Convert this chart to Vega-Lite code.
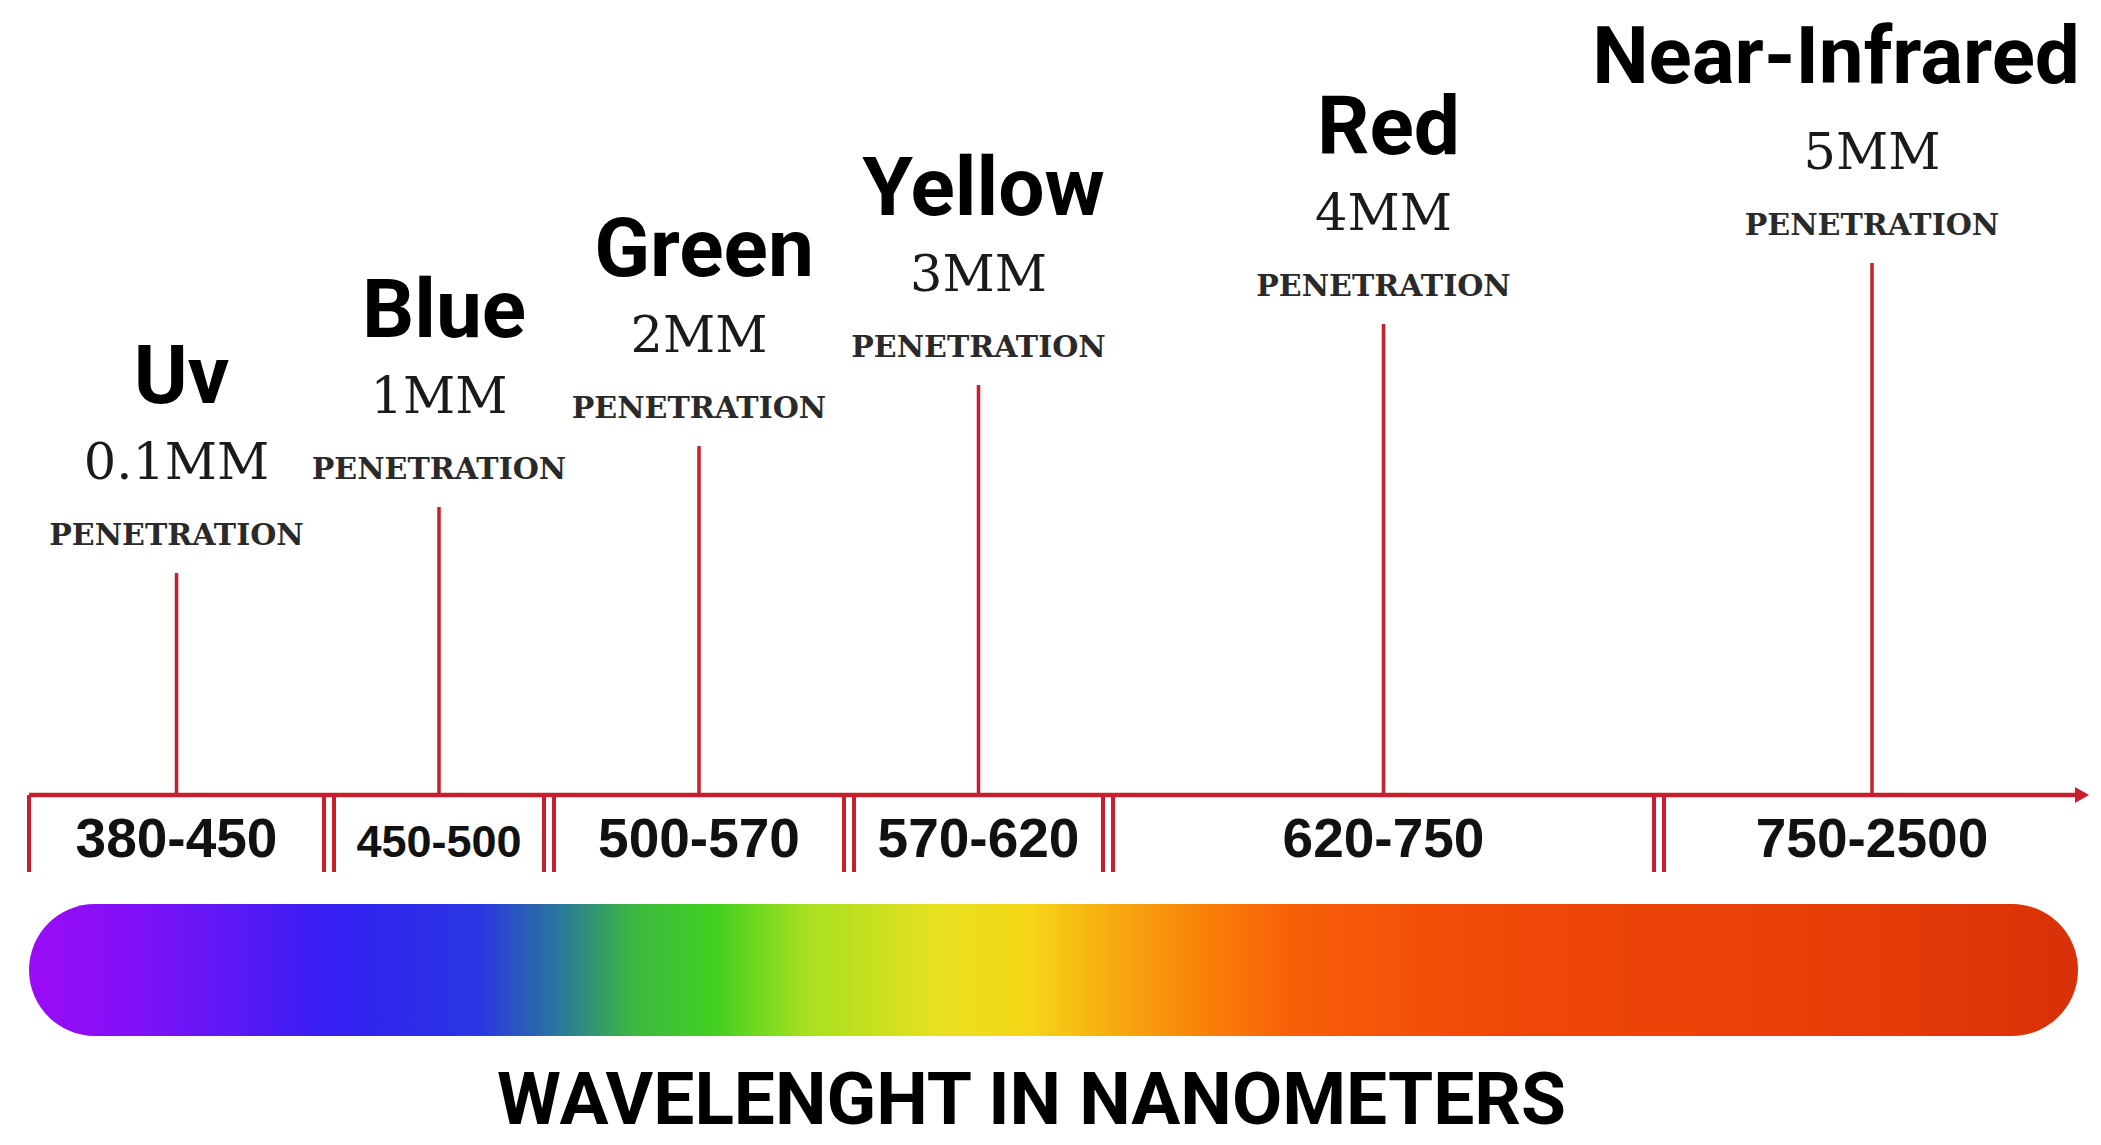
{
  "$schema": "https://vega.github.io/schema/vega-lite/v6.json",
  "width": 2101,
  "height": 1145,
  "padding": 0,
  "autosize": {"type": "none"},
  "background": "white",
  "datasets": {
    "bands": [
      {"name": "Uv", "range": "380-450", "start": 380, "end": 450, "depth": 0.1, "depth_label": "0.1MM"},
      {"name": "Blue", "range": "450-500", "start": 450, "end": 500, "depth": 1, "depth_label": "1MM"},
      {"name": "Green", "range": "500-570", "start": 500, "end": 570, "depth": 2, "depth_label": "2MM"},
      {"name": "Yellow", "range": "570-620", "start": 570, "end": 620, "depth": 3, "depth_label": "3MM"},
      {"name": "Red", "range": "620-750", "start": 620, "end": 750, "depth": 4, "depth_label": "4MM"},
      {"name": "Near-Infrared", "range": "750-2500", "start": 750, "end": 2500, "depth": 5, "depth_label": "5MM"}
    ]
  },
  "data": {"name": "bands"},
  "transform": [{"calculate": "(datum.start + datum.end) / 2", "as": "mid"}],
  "resolve": {"scale": {"x": "shared", "y": "shared"}},
  "layer": [
    {
      "transform": [{"aggregate": [{"op": "min", "field": "start", "as": "lo"}, {"op": "max", "field": "end", "as": "hi"}]}],
      "mark": {
        "type": "bar",
        "yOffset": 109,
        "y2Offset": 241,
        "xOffset": 5,
        "x2Offset": -7,
        "cornerRadius": 66,
        "fill": {
          "gradient": "linear", "x1": 0, "y1": 0, "x2": 1, "y2": 0,
          "stops": [
            {"offset": 0, "color": "#9a0cf4"},
            {"offset": 0.05, "color": "#8210f8"},
            {"offset": 0.15, "color": "#3420f2"},
            {"offset": 0.22, "color": "#2a36e2"},
            {"offset": 0.26, "color": "#2a7a98"},
            {"offset": 0.295, "color": "#3cb840"},
            {"offset": 0.335, "color": "#42d020"},
            {"offset": 0.38, "color": "#a8e020"},
            {"offset": 0.445, "color": "#e8e020"},
            {"offset": 0.485, "color": "#f5d818"},
            {"offset": 0.54, "color": "#f8a010"},
            {"offset": 0.575, "color": "#f98008"},
            {"offset": 0.615, "color": "#f86008"},
            {"offset": 0.705, "color": "#f04a08"},
            {"offset": 0.9, "color": "#e63c08"},
            {"offset": 1, "color": "#d83008"}
          ]
        }
      },
      "encoding": {
        "x": {"field": "lo", "type": "quantitative", "title": "WAVELENGHT IN NANOMETERS",
              "scale": {"type": "linear", "domain": [380, 450, 500, 570, 620, 750, 2500], "range": [24, 329, 549, 849, 1108, 1659, 2085], "nice": false, "zero": false}},
        "x2": {"field": "hi"},
        "y": {"datum": 0, "type": "quantitative",
              "scale": {"type": "linear", "domain": [0, 0.1, 1, 5], "range": [795, 573, 507, 263], "nice": false, "zero": false}},
        "y2": {"datum": 0}
      }
    },
    {
      "transform": [{"aggregate": [{"op": "min", "field": "start", "as": "lo"}, {"op": "max", "field": "end", "as": "hi"}]}],
      "mark": {"type": "rule", "color": "#c81e2e", "strokeWidth": 4.5, "xOffset": 5},
      "encoding": {
        "x": {"field": "lo", "type": "quantitative", "title": "WAVELENGHT IN NANOMETERS"},
        "x2": {"field": "hi"},
        "y": {"datum": 0, "type": "quantitative"}
      }
    },
    {
      "transform": [{"aggregate": [{"op": "max", "field": "end", "as": "hi"}]}],
      "mark": {"type": "point", "shape": "triangle-right", "filled": true, "color": "#c81e2e", "opacity": 1, "size": 260, "xOffset": -3},
      "encoding": {
        "x": {"field": "hi", "type": "quantitative", "title": "WAVELENGHT IN NANOMETERS"},
        "y": {"datum": 0, "type": "quantitative"}
      }
    },
    {
      "mark": {"type": "rule", "color": "#c81e2e", "strokeWidth": 4, "xOffset": 5, "y2Offset": 77},
      "encoding": {
        "x": {"field": "start", "type": "quantitative", "title": "WAVELENGHT IN NANOMETERS"},
        "y": {"datum": 0, "type": "quantitative"},
        "y2": {"datum": 0}
      }
    },
    {
      "transform": [{"filter": "datum.end < 2500"}],
      "mark": {"type": "rule", "color": "#c81e2e", "strokeWidth": 4, "xOffset": -5, "y2Offset": 77},
      "encoding": {
        "x": {"field": "end", "type": "quantitative", "title": "WAVELENGHT IN NANOMETERS"},
        "y": {"datum": 0, "type": "quantitative"},
        "y2": {"datum": 0}
      }
    },
    {
      "mark": {"type": "rule", "color": "#c81e2e", "strokeWidth": 3.5},
      "encoding": {
        "x": {"field": "mid", "type": "quantitative", "title": "WAVELENGHT IN NANOMETERS"},
        "y": {"field": "depth", "type": "quantitative"},
        "y2": {"datum": 0}
      }
    },
    {
      "mark": {"type": "text", "font": "Liberation Sans", "fontWeight": "bold", "color": "#111111", "baseline": "alphabetic", "align": "center", "dy": 62},
      "encoding": {
        "x": {"field": "mid", "type": "quantitative", "title": "WAVELENGHT IN NANOMETERS"},
        "y": {"datum": 0, "type": "quantitative"},
        "text": {"field": "range"},
        "size": {"condition": {"test": "datum.range === '450-500'", "value": 45}, "value": 55}
      }
    },
    {
      "mark": {"type": "text", "font": "DejaVu Serif", "fontWeight": "bold", "fontSize": 30, "color": "#2a2a2a", "baseline": "alphabetic", "align": "center", "dy": -28},
      "encoding": {
        "x": {"field": "mid", "type": "quantitative", "title": "WAVELENGHT IN NANOMETERS"},
        "y": {"field": "depth", "type": "quantitative"},
        "text": {"value": "PENETRATION"}
      }
    },
    {
      "mark": {"type": "text", "font": "DejaVu Serif", "fontSize": 51, "color": "#1a1a1a", "baseline": "alphabetic", "align": "center", "dy": -94},
      "encoding": {
        "x": {"field": "mid", "type": "quantitative", "title": "WAVELENGHT IN NANOMETERS"},
        "y": {"field": "depth", "type": "quantitative"},
        "text": {"field": "depth_label"}
      }
    },
    {
      "transform": [{"filter": "datum.name !== 'Near-Infrared'"}],
      "mark": {"type": "text", "font": "Roboto", "fontWeight": "bold", "fontSize": 82, "color": "#000000", "baseline": "alphabetic", "align": "center", "dy": -170, "dx": 5},
      "encoding": {
        "x": {"field": "mid", "type": "quantitative", "title": "WAVELENGHT IN NANOMETERS"},
        "y": {"field": "depth", "type": "quantitative"},
        "text": {"field": "name"}
      }
    },
    {
      "transform": [{"filter": "datum.name === 'Near-Infrared'"}],
      "mark": {"type": "text", "font": "Roboto", "fontWeight": "bold", "fontSize": 80, "color": "#000000", "baseline": "alphabetic", "align": "center", "dy": -180, "dx": -36},
      "encoding": {
        "x": {"field": "mid", "type": "quantitative", "title": "WAVELENGHT IN NANOMETERS"},
        "y": {"field": "depth", "type": "quantitative"},
        "text": {"field": "name"}
      }
    }
  ],
  "config": {
    "view": {"stroke": null},
    "axisY": {"disable": true},
    "axisX": {
      "domain": false, "ticks": false, "labels": false, "grid": false,
      "titleFont": "Roboto",
      "titleFontSize": 73, "titleFontWeight": "bold", "titleColor": "#000000",
      "titleBaseline": "alphabetic", "titleX": 1031, "titleY": -22, "titleAlign": "center"
    }
  }
}
